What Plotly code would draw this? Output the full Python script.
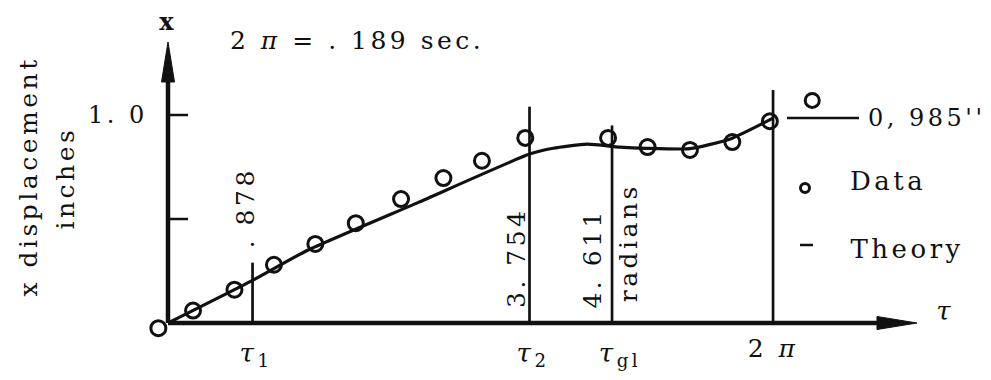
import re
import plotly.graph_objects as go

# ---- data -------------------------------------------------------------
# measured displacement (inches) against phase tau (radians)
tau_data = [-0.10, 0.26, 0.69, 1.10, 1.53, 1.95, 2.42, 2.86, 3.26, 3.71,
            4.57, 4.98, 5.42, 5.86, 6.25]
x_data = [-0.025, 0.06, 0.16, 0.28, 0.38, 0.48, 0.596, 0.697, 0.78, 0.89,
          0.89, 0.846, 0.832, 0.87, 0.97]

# isolated final reading drawn beyond one period
tau_final = [6.69]
x_final = [1.07]

# theoretical response
tau_theory = [0.0, 0.878, 1.45, 2.6, 3.754, 4.0, 4.35, 4.69, 4.97, 5.42, 5.84, 6.283]
x_theory = [0.0, 0.205, 0.35, 0.58, 0.812, 0.84, 0.86, 0.846, 0.84, 0.838, 0.885, 0.985]

# characteristic phase markers
marker_tau = [0.878, 3.754, 4.611, 6.283]
marker_top = [0.29, 1.04, 0.95, 1.12]
marker_values = [". 878", "3. 754", "4. 611"]

final_value = 0.985
y_ticks = [0.5, 1.0]

# ---- geometry (pixel layout of the 991 x 380 canvas) -------------------
W, H = 991, 380
OX, OY = 168, 323          # origin in pixels
SX, SY = 96.3, 208.0       # pixels per radian / per inch


def dx(px):
    return (px - OX) / SX


def dy(py):
    return (OY - py) / SY


FONT = "DejaVu Serif"
BLACK = "#111111"
FS = 25
LS = 3.5                   # letter spacing of the labels, px

fig = go.Figure()

# theory curve
fig.add_trace(go.Scatter(
    x=tau_theory, y=x_theory, mode="lines",
    line=dict(color=BLACK, width=3.2, shape="spline", smoothing=0.5),
    hoverinfo="skip", showlegend=False))

# measured points
fig.add_trace(go.Scatter(
    x=tau_data, y=x_data, mode="markers",
    marker=dict(symbol="circle-open", size=15, color=BLACK, line=dict(width=3)),
    showlegend=False))
fig.add_trace(go.Scatter(
    x=tau_final, y=x_final, mode="markers",
    marker=dict(symbol="circle-open", size=14, color=BLACK, line=dict(width=3)),
    showlegend=False))

shapes = []
annotations = []

# axes lines
x_end, y_end = dx(917), dy(42)
shapes.append(dict(type="line", x0=0, y0=0, x1=dx(885), y1=0,
                   line=dict(color=BLACK, width=4.5)))
shapes.append(dict(type="line", x0=0, y0=0, x1=0, y1=dy(70),
                   line=dict(color=BLACK, width=4.5)))
# arrowheads
shapes.append(dict(type="path", fillcolor=BLACK, line=dict(color=BLACK, width=1),
                   path=f"M {dx(877)},{dy(316.5)} L {x_end},0 L {dx(877)},{dy(329.5)} Z"))
shapes.append(dict(type="path", fillcolor=BLACK, line=dict(color=BLACK, width=1),
                   path=f"M {dx(161.5)},{dy(82)} L 0,{y_end} L {dx(174.5)},{dy(82)} Z"))

# y ticks
for t in y_ticks:
    shapes.append(dict(type="line", x0=0, y0=t, x1=dx(188), y1=t,
                       line=dict(color=BLACK, width=2.5)))

# vertical phase markers
for t, top in zip(marker_tau, marker_top):
    shapes.append(dict(type="line", x0=t, y0=0, x1=t, y1=top,
                       line=dict(color=BLACK, width=2.7)))

# leader to final value
shapes.append(dict(type="line", x0=dx(787), y0=final_value, x1=dx(859), y1=final_value,
                   line=dict(color=BLACK, width=2.5)))

# legend dash for theory
shapes.append(dict(type="line", x0=dx(800), y0=dy(245), x1=dx(813), y1=dy(245),
                   line=dict(color=BLACK, width=2.5)))


def note(text, x, y, size=FS, angle=0, xanchor="center", yanchor="middle"):
    # letter spacing widens a label about its centre; keep its anchored edge put
    n = len(re.sub(r"<[^>]+>", "", text))
    shift = n * LS / 2 / SX
    if angle == 0 and xanchor == "left":
        x += shift
    elif angle == 0 and xanchor == "right":
        x -= shift
    annotations.append(dict(text=text, x=x, y=y, xref="x", yref="y",
                            showarrow=False, textangle=angle,
                            xanchor=xanchor, yanchor=yanchor,
                            font=dict(family=FONT, size=size, color=BLACK)))


note("<b>x</b>", 0, dy(21), size=24)
note("2 <i>π</i> = . 189 sec.", dx(228), dy(40), xanchor="left")
note("1. 0", dx(150), 1.0, size=24, xanchor="right")
note("x displacement", dx(28), dy(177), angle=-90)
note("inches", dx(65), dy(178), angle=-90)

# values written alongside the phase markers (offsets in pixels from each line)
value_offset = [(-8, 208), (-14, 258), (-20, 258)]
for v, t, (off, py) in zip(marker_values, marker_tau, value_offset):
    note(v, t + off / SX, dy(py), angle=-90)
note("radians", marker_tau[2] + 16 / SX, dy(243), angle=-90)

# phase names under the axis
for t, name in zip(marker_tau[:3], ["1", "2", "gl"]):
    note(f"<i>τ</i><sub>{name}</sub>", t - 15 / SX, dy(354), size=26, xanchor="left")
note("2 <i>π</i>", marker_tau[3], dy(348), size=FS)

note("<i>τ</i>", dx(945), dy(311), size=26)
note(f"0, {str(final_value)[2:]}''", dx(866), final_value, size=24, xanchor="left")

# legend
fig.add_trace(go.Scatter(
    x=[dx(805)], y=[dy(188)], mode="markers",
    marker=dict(symbol="circle-open", size=9, color=BLACK, line=dict(width=3)),
    showlegend=False, hoverinfo="skip"))
note("Data", dx(848), dy(181), size=26, xanchor="left")
note("Theory", dx(848), dy(249), size=26, xanchor="left")

fig.update_layout(
    width=W, height=H, autosize=False,
    margin=dict(l=0, r=0, t=0, b=0),
    paper_bgcolor="white", plot_bgcolor="white",
    shapes=shapes, annotations=annotations,
    xaxis=dict(range=[dx(0), dx(W)], visible=False, fixedrange=True),
    yaxis=dict(range=[dy(H), dy(0)], visible=False, fixedrange=True),
)

# the typeset labels are widely letter-spaced
spacing_js = (
    "document.querySelectorAll('.annotation-text').forEach(function(t){"
    f"t.style.letterSpacing='{LS}px';}});"
)
fig.write_html("out.html", post_script=spacing_js)
